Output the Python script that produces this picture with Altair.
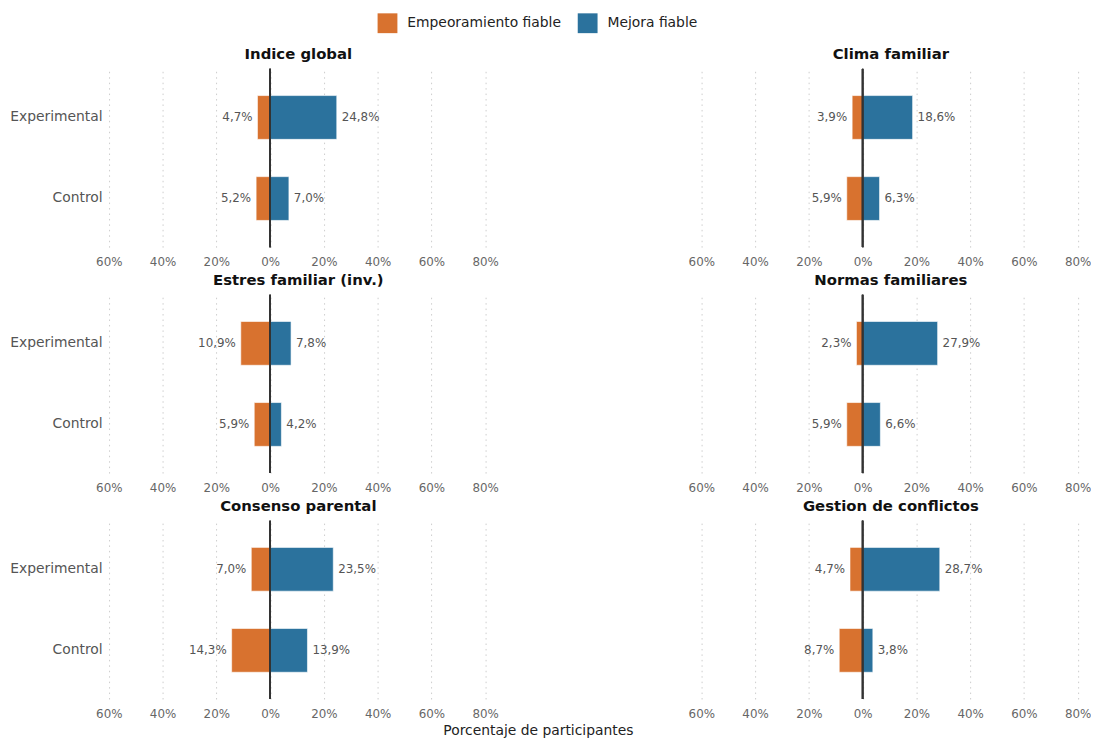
import altair as alt
import pandas as pd

panels = ["Indice global", "Clima familiar", "Estres familiar (inv.)",
          "Normas familiares", "Consenso parental", "Gestion de conflictos"]
groups = ["Experimental", "Control"]
# worsening (Empeoramiento fiable) per panel: [Experimental, Control]
worse = [[4.7, 5.2], [3.9, 5.9], [10.9, 5.9], [2.3, 5.9], [7.0, 14.3], [4.7, 8.7]]
# improvement (Mejora fiable) per panel: [Experimental, Control]
better = [[24.8, 7.0], [18.6, 6.3], [7.8, 4.2], [27.9, 6.6], [23.5, 13.9], [28.7, 3.8]]
series = ["Empeoramiento fiable", "Mejora fiable"]
colors = ["#D8722F", "#2B729D"]
ticks = [-60, -40, -20, 0, 20, 40, 60, 80]

rows = []
for p, panel in enumerate(panels):
    for g, grp in enumerate(groups):
        for s, vals in ((0, worse), (1, better)):
            v = vals[p][g]
            rows.append({
                "panel": panel, "group": grp, "serie": series[s],
                "value": -v if s == 0 else v,
                "label": f"{v:.1f}".replace(".", ",") + "%",
            })
df = pd.DataFrame(rows)

FONT = "DejaVu Sans"
W, H = 388, 180
XDOM = [-61, 82]


def panel_chart(panel, show_y):
    d = df[df.panel == panel]
    base = alt.Chart(d)
    yenc = alt.Y("group:N", sort=groups, title=None,
                 scale=alt.Scale(paddingInner=0.46, paddingOuter=0.33),
                 axis=alt.Axis(labelFontSize=14, labelColor="#555", labelFont=FONT,
                               ticks=False, domain=False, labelPadding=4) if show_y else None)
    xenc = alt.X("value:Q", title=None,
                 scale=alt.Scale(domain=XDOM, nice=False, zero=True),
                 axis=alt.Axis(values=ticks, labelExpr="abs(datum.value) + '%'",
                               labelFontSize=12, labelColor="#666", labelFont=FONT,
                               ticks=False, domain=False, labelPadding=10,
                               grid=True, gridDash=[1.5, 4], gridColor="#cccccc",
                               gridWidth=1))
    bars = base.mark_bar(stroke="white", strokeWidth=0.6).encode(
        x=xenc, y=yenc,
        color=alt.Color("serie:N", scale=alt.Scale(domain=series, range=colors),
                        legend=alt.Legend(title=None, orient="none", direction="horizontal",
                                          legendX=274, legendY=-56, padding=0,
                                          symbolType="square", symbolSize=400,
                                          symbolStrokeWidth=0, labelFontSize=14,
                                          labelFont=FONT, labelColor="#222",
                                          columnPadding=16, labelOffset=10)),
    )
    pos = base.transform_filter("datum.value > 0").mark_text(
        align="left", dx=5, fontSize=12, color="#555", font=FONT).encode(
        x="value:Q", y=alt.Y("group:N", sort=groups), text="label:N")
    neg = base.transform_filter("datum.value < 0").mark_text(
        align="right", dx=-5, fontSize=12, color="#555", font=FONT).encode(
        x="value:Q", y=alt.Y("group:N", sort=groups), text="label:N")
    zero = alt.Chart(d).mark_rule(color="#333", strokeWidth=1.6).encode(x=alt.datum(0))
    return alt.layer(bars, zero, pos, neg).properties(
        width=W, height=H,
        title=alt.TitleParams(panel, fontSize=15, fontWeight="bold", color="#111",
                              font=FONT, offset=6, anchor="middle"))


row_charts = []
for r in range(3):
    left = panel_chart(panels[2 * r], True)
    right = panel_chart(panels[2 * r + 1], False)
    row_charts.append(alt.hconcat(left, right, spacing=191))

chart = alt.vconcat(*row_charts, spacing=5).properties(
    padding={"left": 1, "top": 2, "right": 0, "bottom": 0},
    title=alt.TitleParams("Porcentaje de participantes", orient="bottom", anchor="middle",
                          fontSize=14, fontWeight="normal", color="#222", font=FONT,
                          offset=4, dx=-12)
).configure_view(stroke=None)

chart.save("out.html", embed_options={"renderer": "svg", "actions": False})
